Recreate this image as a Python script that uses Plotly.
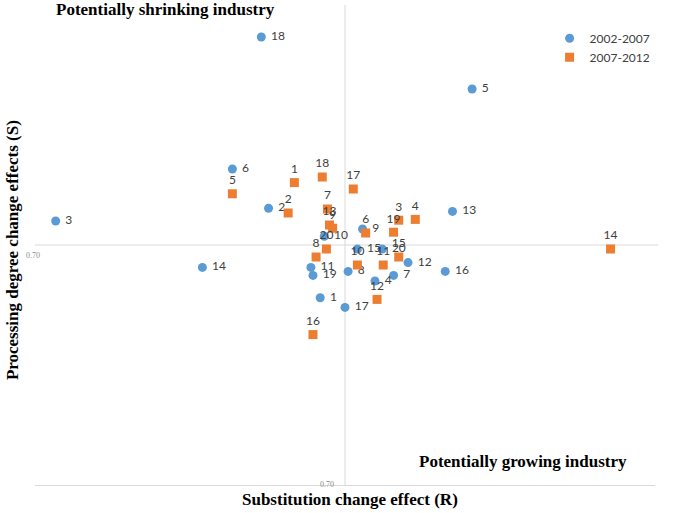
import plotly.graph_objects as go

# 2002-2007 (blue circles)
labels_a = ["1", "2", "3", "4", "5", "6", "7", "8", "9", "10",
            "11", "12", "13", "14", "15", "16", "17", "18", "19", "20"]
r_a = [0.976, 0.926, 0.720, 1.029, 1.123, 0.891, 1.047, 1.003, 1.017, 0.980,
       0.967, 1.061, 1.104, 0.862, 1.012, 1.097, 1.000, 0.919, 0.969, 1.036]
s_a = [0.934, 1.046, 1.030, 0.955, 1.195, 1.095, 0.962, 0.967, 1.020, 1.011,
       0.972, 0.978, 1.042, 0.972, 0.995, 0.967, 0.922, 1.260, 0.962, 0.995]

# 2007-2012 (orange squares)
labels_b = ["1", "2", "3", "4", "5", "6", "7", "8", "9", "10",
            "11", "12", "13", "14", "15", "16", "17", "18", "19", "20"]
r_b = [0.951, 0.945, 1.052, 1.068, 0.891, 1.020, 0.983, 0.972, 0.988, 1.012,
       1.037, 1.031, 0.985, 1.257, 1.052, 0.969, 1.008, 0.978, 1.047, 0.982]
s_b = [1.078, 1.040, 1.031, 1.032, 1.064, 1.015, 1.045, 0.985, 1.021, 0.975,
       0.975, 0.932, 1.025, 0.995, 0.985, 0.888, 1.070, 1.085, 1.016, 0.995]

axis_min = 0.70
axis_mid = 1.00
axis_max = 1.30

label_font = dict(family="Lato, Open Sans, sans-serif", size=12, color="#404040")
serif_bold = dict(family="Liberation Serif, Times New Roman, serif", size=17, color="black")

fig = go.Figure()

fig.add_trace(go.Scatter(
    x=r_a, y=s_a, mode="markers+text", name="2002-2007",
    text=labels_a, texttemplate=" %{text}", textposition="middle right",
    textfont=label_font,
    marker=dict(symbol="circle", size=9, color="#5B9BD5"),
))
fig.add_trace(go.Scatter(
    x=r_b, y=s_b, mode="markers+text", name="2007-2012",
    text=labels_b, textposition="top center", textfont=label_font,
    marker=dict(symbol="square", size=9, color="#ED7D31"),
))

# quadrant lines crossing at 1.0
line_style = dict(color="#d9d9d9", width=1)
fig.add_shape(type="line", xref="paper", x0=0, x1=1.005, yref="y",
              y0=axis_mid, y1=axis_mid, line=line_style, layer="below")
fig.add_shape(type="line", xref="x", x0=axis_mid, x1=axis_mid, yref="paper",
              y0=0, y1=1, line=line_style, layer="below")

tick_font = dict(family="Liberation Serif, serif", size=8, color="#8c8c8c")
ann = [
    dict(text="<b>Potentially shrinking industry</b>", x=0.21, y=0.991,
         font=serif_bold),
    dict(text="<b>Potentially growing industry</b>", x=0.787, y=0.05,
         font=serif_bold),
    dict(text="<b>Substitution change effect (R)</b>", x=0.508, y=-0.031,
         font=serif_bold),
    dict(text="<b>Processing degree change effects (S)</b>", x=-0.035, y=0.49,
         font=serif_bold, textangle=-90),
    dict(text="0.70", x=-0.004, y=0.478, font=tick_font),
    dict(text="0.70", x=0.471, y=0.002, font=tick_font),
]
for a in ann:
    fig.add_annotation(xref="paper", yref="paper", showarrow=False,
                       xanchor="center", yanchor="middle", **a)

fig.update_xaxes(range=[axis_min, axis_max], showgrid=False, zeroline=False,
                 showticklabels=False, ticks="", showline=True,
                 linecolor="#d9d9d9", linewidth=1)
fig.update_yaxes(range=[axis_min, axis_max], showgrid=False, zeroline=False,
                 showticklabels=False, ticks="", showline=False)

fig.update_layout(
    width=685, height=513,
    margin=dict(l=35, r=30, t=5, b=28),
    plot_bgcolor="white", paper_bgcolor="white",
    legend=dict(x=0.83, y=0.961, xanchor="left", yanchor="top",
                font=dict(family="Lato, Open Sans, sans-serif", size=12, color="#404040"),
                bgcolor="rgba(0,0,0,0)", itemwidth=30, tracegroupgap=2),
)

# drop the page's default body margin so the figure sits at the window corner
fig.write_html("out.html", config={"displayModeBar": False},
               post_script="document.body.style.margin='0';document.body.style.overflow='hidden';")
